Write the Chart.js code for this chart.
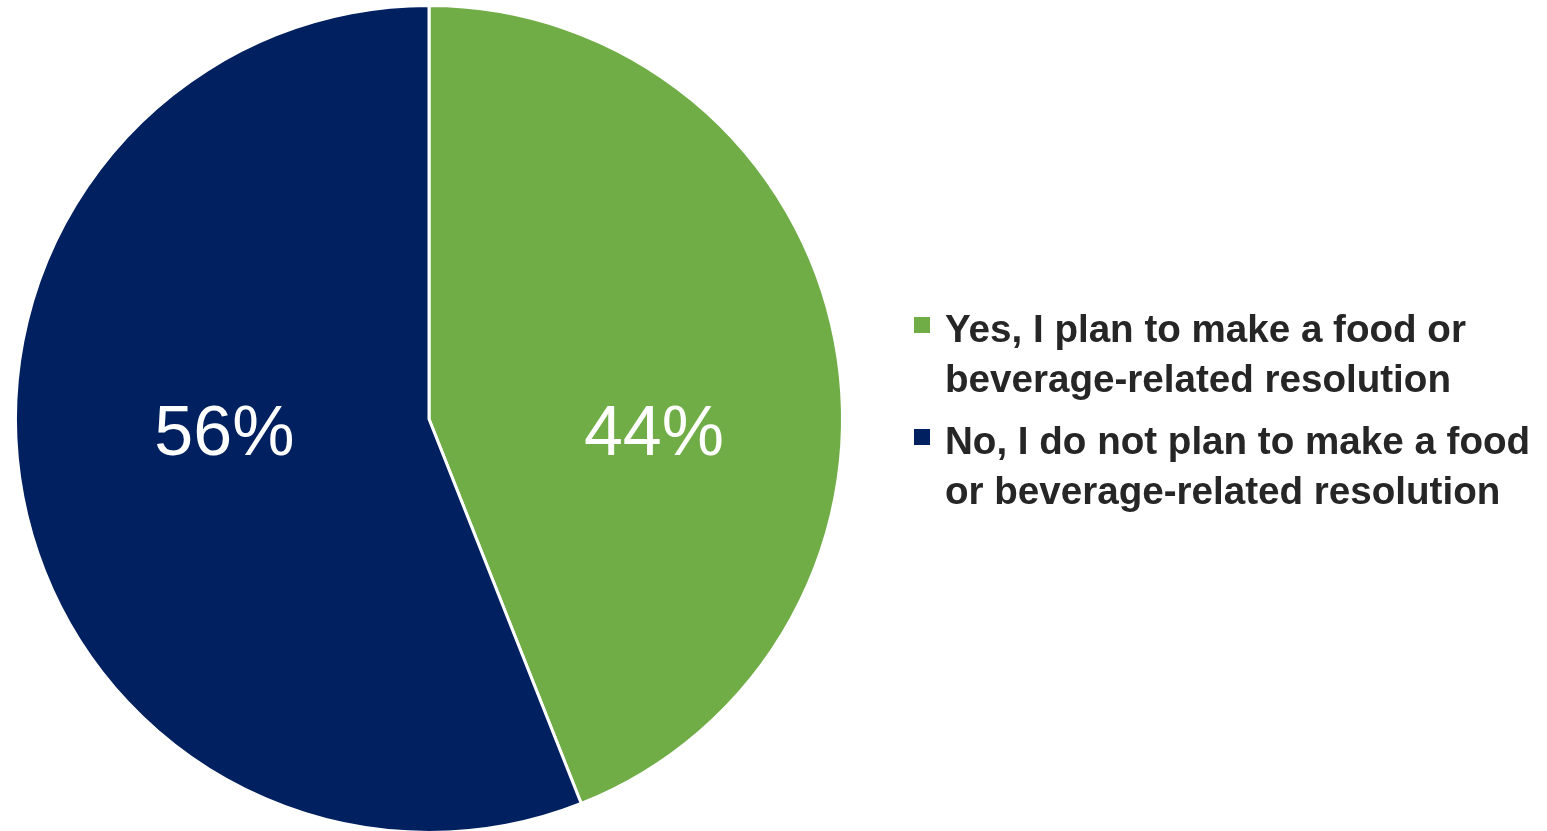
<!DOCTYPE html>
<html>
<head>
<meta charset="utf-8">
<script src="https://cdn.jsdelivr.net/npm/chart.js@4"></script>
<style>
  html, body { margin: 0; padding: 0; background: #fff; overflow: hidden; }
  #wrap { position: relative; width: 1547px; height: 831px; overflow: hidden; }
  #legend { position: absolute; left: 914px; top: 304px; font-family: "Liberation Sans", Arial, sans-serif; font-weight: bold; font-size: 38.6px; line-height: 50px; color: #262626; white-space: nowrap; }
  .item { position: relative; padding-left: 31px; margin-bottom: 12px; }
  .box { position: absolute; left: 0; top: 13px; width: 16px; height: 16px; }
</style>
</head>
<body>
<div id="wrap">
  <canvas id="pie" width="1547" height="834"></canvas>
  <div id="legend"></div>
</div>
<script>
// données
const labels = [
    ['Yes, I plan to make a food or', 'beverage-related resolution'],
    ['No, I do not plan to make a food', 'or beverage-related resolution']
]
const values = [44, 56]
const colors = ['#70AD47', '#002060']

// petit plugin pour écrire les pourcentages dans les parts
const pctLabels = {
    id: 'pctLabels',
    afterDatasetsDraw(chart) {
        const ctx = chart.ctx
        const meta = chart.getDatasetMeta(0)
        // décalage horizontal (fraction du rayon) de chaque étiquette
        const shift = [0.544, -0.495]
        ctx.save()
        ctx.fillStyle = '#fff'
        ctx.font = '70px "Liberation Sans", sans-serif'
        ctx.textAlign = 'center'
        ctx.textBaseline = 'alphabetic'
        meta.data.forEach((arc, i) => {
            const x = arc.x + shift[i] * arc.outerRadius
            const y = arc.y + 36
            ctx.fillText(values[i] + '%', x, y)
        })
        ctx.restore()
    }
}

new Chart(document.getElementById('pie'), {
    type: 'pie',
    data: {
        labels: labels.map(l => l.join(' ')),
        datasets: [{
            data: values,
            backgroundColor: colors,
            borderColor: '#fff',
            borderWidth: 3
        }]
    },
    options: {
        responsive: false,
        animation: false,
        layout: { padding: { left: 14, top: 4, right: 703, bottom: 0 } },
        plugins: {
            legend: { display: false },
            tooltip: { enabled: false }
        }
    },
    plugins: [pctLabels]
})

// légende HTML (les libellés vont sur deux lignes)
const legend = document.getElementById('legend')
labels.forEach((l, i) => {
    const item = document.createElement('div')
    item.className = 'item'
    const box = document.createElement('span')
    box.className = 'box'
    box.style.background = colors[i]
    item.appendChild(box)
    l.forEach(line => {
        const d = document.createElement('div')
        d.textContent = line
        item.appendChild(d)
    })
    legend.appendChild(item)
})
</script>
</body>
</html>
